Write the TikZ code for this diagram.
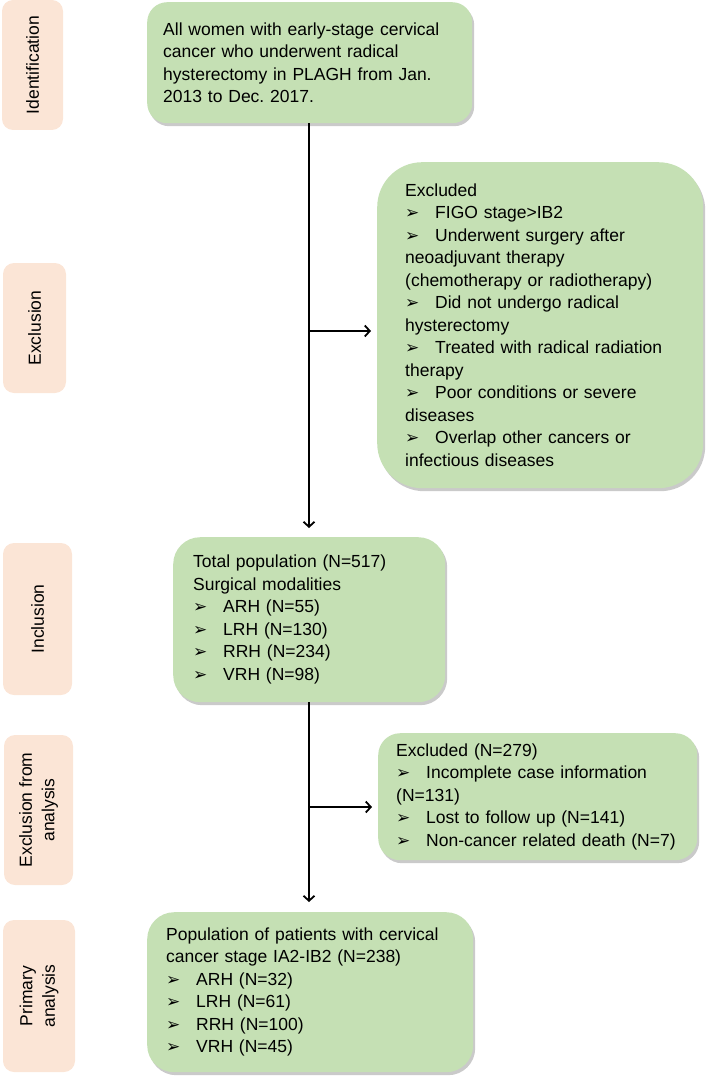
\documentclass[tikz,border=0pt]{standalone}
\usepackage{fontspec}
\setmainfont{Liberation Sans}
\newfontfamily\dv{DejaVu Sans}
\usetikzlibrary{arrows.meta,shadows}
\definecolor{boxgreen}{HTML}{C5E0B4}
\definecolor{labpeach}{HTML}{FBE5D6}
\newcommand\bl{\makebox[30pt][l]{\dv\fontsize{17}{17}\selectfont ➢}}
\frenchspacing
\begin{document}
\begin{tikzpicture}[x=1pt,y=-1pt,
  every node/.style={font=\fontsize{17.5}{22.5}\selectfont},
  gbox/.style={fill=boxgreen, draw=none, align=left, anchor=north west, inner ysep=0pt,
    drop shadow={shadow xshift=2pt, shadow yshift=-3pt, opacity=0.35, fill=black!60}},
  lab/.style={fill=labpeach, draw=none, rotate=90, rounded corners=11pt, align=center, inner sep=0pt},
  arr/.style={line width=1.8pt, -{Straight Barb[length=5pt,width=11pt,line width=1.8pt]}}]
\useasboundingbox (0,0) rectangle (708,1078);
% left labels
\node[lab, minimum width=130pt, minimum height=61pt] (lid) at (32.5,65) {Identification};
\node[lab, minimum width=130pt, minimum height=63pt] (lex) at (34.5,328) {Exclusion};
\node[lab, minimum width=152pt, minimum height=69pt] (lin) at (37.5,619) {Inclusion};
\node[lab, minimum width=150pt, minimum height=69pt] (lea) at (38.5,810) {Exclusion from\\analysis};
\node[lab, minimum width=152pt, minimum height=72pt] (lpa) at (39,996) {Primary\\analysis};
% green boxes
\node[gbox, rounded corners=20pt, text width=293pt, inner xsep=16pt, minimum height=121pt] (top) at (147,2)
 {All women with early-stage cervical\\cancer who underwent radical\\hysterectomy in PLAGH from Jan.\\2013 to Dec. 2017.};
\node[gbox, rounded corners=45pt, text width=270pt, inner xsep=28pt, minimum height=326pt] (excl) at (377,162)
 {Excluded\\\bl FIGO stage>IB2\\\bl Underwent surgery after\\neoadjuvant therapy\\(chemotherapy or radiotherapy)\\\bl Did not undergo radical\\hysterectomy\\\bl Treated with radical radiation\\therapy\\\bl Poor conditions or severe\\diseases\\\bl Overlap other cancers or\\infectious diseases};
\node[gbox, rounded corners=27pt, text width=232pt, inner xsep=20pt, minimum height=165pt] (incl) at (173,537)
 {Total population (N=517)\\Surgical modalities\\\bl ARH (N=55)\\\bl LRH (N=130)\\\bl RRH (N=234)\\\bl VRH (N=98)};
\node[gbox, rounded corners=22pt, text width=283pt, inner xsep=18pt, minimum height=127pt] (exa) at (378,733)
 {Excluded (N=279)\\\bl Incomplete case information\\(N=131)\\\bl Lost to follow up (N=141)\\\bl Non-cancer related death (N=7)};
\node[gbox, rounded corners=27pt, text width=288pt, inner xsep=19pt, minimum height=160pt] (prim) at (147,912)
 {Population of patients with cervical\\cancer stage IA2-IB2 (N=238)\\\bl ARH (N=32)\\\bl LRH (N=61)\\\bl RRH (N=100)\\\bl VRH (N=45)};
% connectors
\coordinate (b1) at (309,331);
\coordinate (b2) at (309,807);
\draw[arr, shorten >=9pt] (top.south -| b1) -- (incl.north -| b1);
\draw[arr, shorten >=6pt] (b1) -- (b1 -| excl.west);
\draw[arr, shorten >=10pt] (incl.south -| b2) -- (prim.north -| b2);
\draw[arr, shorten >=6pt] (b2) -- (b2 -| exa.west);
\end{tikzpicture}
\end{document}
